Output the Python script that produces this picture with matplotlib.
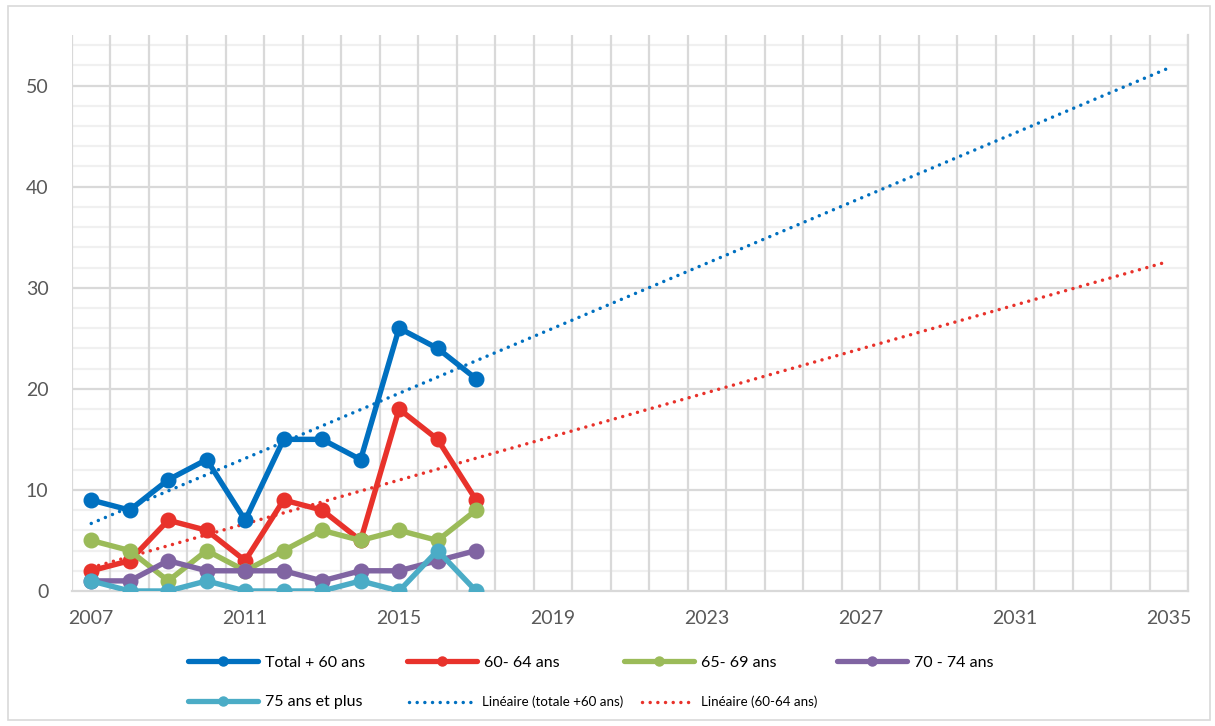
import numpy as np
import matplotlib
matplotlib.use("Agg")
import matplotlib.pyplot as plt
from matplotlib.lines import Line2D
from matplotlib.patches import Rectangle

plt.rcParams['font.family'] = ['Lato', 'DejaVu Sans']

years = list(range(2007, 2036))
data_years = list(range(2007, 2018))
total = [9, 8, 11, 13, 7, 15, 15, 13, 26, 24, 21]
age_60_64 = [2, 3, 7, 6, 3, 9, 8, 5, 18, 15, 9]
age_65_69 = [5, 4, 1, 4, 2, 4, 6, 5, 6, 5, 8]
age_70_74 = [1, 1, 3, 2, 2, 2, 1, 2, 2, 3, 4]
age_75_plus = [1, 0, 0, 1, 0, 0, 0, 1, 0, 4, 0]
tick_labels = [str(y) for y in years]
series_names = ["Total + 60 ans", "60- 64 ans", "65- 69 ans", "70 - 74 ans", "75 ans et plus"]
trend_names = ["Linéaire (totale +60 ans)", "Linéaire (60-64 ans)"]

colors = ["#0070C0", "#E8322B", "#9BBB59", "#8064A2", "#4BACC6"]

fig = plt.figure(figsize=(12.15, 7.26), dpi=100)
ax = fig.add_axes([72/1215, 1-591/726, (1188-72)/1215, (591-35)/726])

xpos = np.arange(len(years))
xd = np.arange(len(data_years))

# grid
for v in np.arange(2, 55, 2):
    if v % 10 == 0:
        ax.axhline(v, color="#D9D9D9", lw=1.6, zorder=0)
    else:
        ax.axhline(v, color="#F0F0F0", lw=1.6, zorder=0)
for b in np.arange(-0.5, len(years) + 0.5, 1):
    ax.axvline(b, color="#D9D9D9", lw=1.6, zorder=0)

all_series = [total, age_60_64, age_65_69, age_70_74, age_75_plus]
handles = []
for s, c, n in zip(all_series, colors, series_names):
    ax.plot(xd, s, color=c, lw=3.9, marker="o", ms=10.5, zorder=3, solid_joinstyle="round", solid_capstyle="round")
    handles.append(Line2D([], [], color=c, lw=3.8, marker="o", ms=6.5, solid_capstyle="round"))

# linear trendlines (least squares fit of the data, forecast forward)
dot_style = (0, (0.01, 2.2))
trend_handles = []
for s, c, n in zip([total, age_60_64], [colors[0], colors[1]], trend_names):
    k, b0 = np.polyfit(xd, s, 1)
    ax.plot(xpos, k * xpos + b0, color=c, lw=2.5, ls=dot_style, dash_capstyle="round", zorder=2)
    trend_handles.append(Line2D([], [], color=c, lw=2.5, ls=dot_style, dash_capstyle="round"))

ax.set_xlim(-0.5, len(years) - 0.5)
ax.set_ylim(0, 55)
ax.set_yticks([0, 10, 20, 30, 40, 50])
ax.set_xticks(xpos[::4])
ax.set_xticklabels(tick_labels[::4])
ax.tick_params(length=0, labelsize=14, colors="#595959", pad=14)
ax.tick_params(axis="y", pad=17)
for sp in ["top", "left"]:
    ax.spines[sp].set_visible(False)
for sp in ["bottom", "right"]:
    ax.spines[sp].set_color("#D9D9D9")
    ax.spines[sp].set_linewidth(1.6)

# legends
H = 726.0
W = 1215.0
entries = [
    (handles[0], series_names[0], 188, 663, 11.5, 4.4),
    (handles[1], series_names[1], 407, 663, 11.5, 4.4),
    (handles[2], series_names[2], 624, 663, 11.5, 4.4),
    (handles[3], series_names[3], 837, 663, 11.5, 4.4),
    (handles[4], series_names[4], 188, 702, 11.5, 4.4),
    (trend_handles[0], trend_names[0], 409, 702, 9.6, 5.1),
    (trend_handles[1], trend_names[1], 642, 702, 9.6, 4.0),
]
for h, label, x, y, fs, hl in entries:
    fig.legend([h], [label], loc="center left", bbox_to_anchor=(x / W, 1 - y / H),
               frameon=False, borderpad=0, borderaxespad=0, handlelength=hl,
               handletextpad=0.4, fontsize=fs, labelcolor="#000000")

fig.patches.append(Rectangle((8 / W, 6 / H), (1210 - 8) / W, (720 - 6) / H,
                             transform=fig.transFigure, fill=False,
                             edgecolor="#D9D9D9", lw=1.2))

fig.savefig("out.png", dpi=100)
